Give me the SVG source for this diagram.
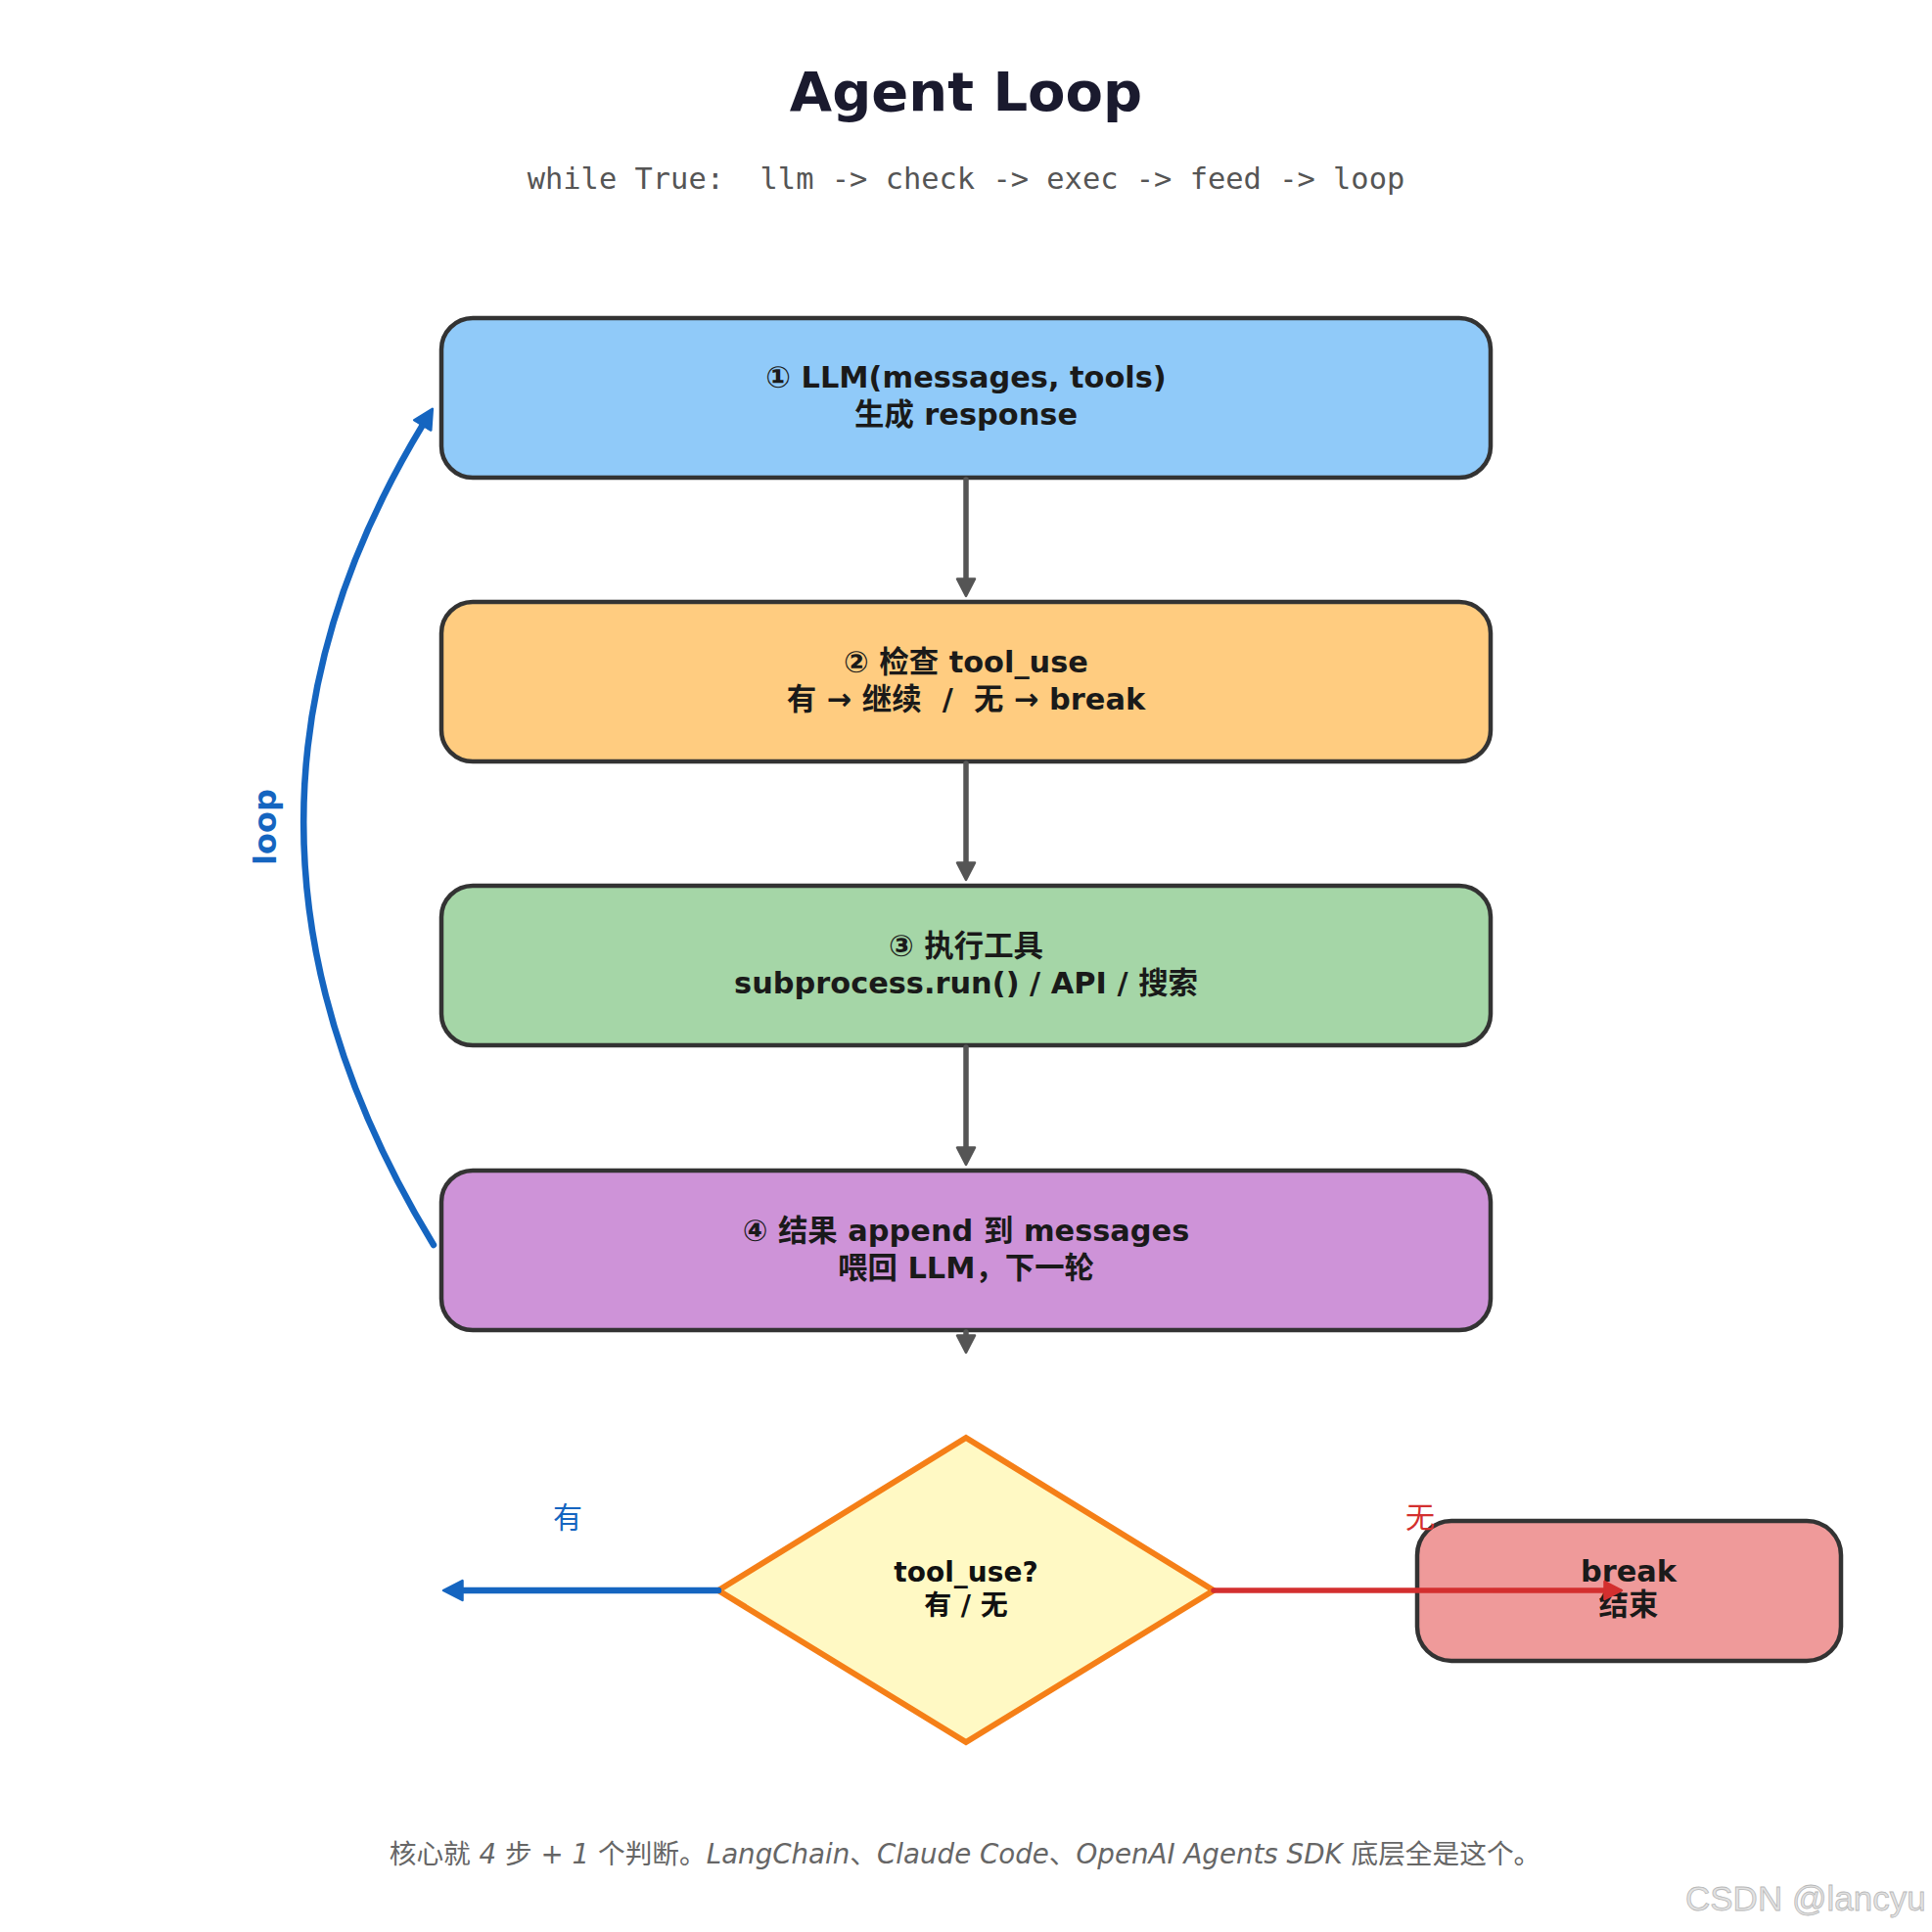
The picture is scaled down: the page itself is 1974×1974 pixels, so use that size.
<svg xmlns="http://www.w3.org/2000/svg" width="1974" height="1974" viewBox="0 0 1974 1974">
<style>
.bg{fill:#ffffff}
.box{stroke:#333333;stroke-width:4.5}
.t{font-family:"DejaVu Sans","Noto Sans CJK SC",sans-serif;font-weight:bold;font-size:30.4px;fill:#1a1a1a;text-anchor:middle}
.title{font-family:"DejaVu Sans","Noto Sans CJK SC",sans-serif;font-weight:bold;font-size:56px;fill:#1a1a2e;text-anchor:middle}
.sub{font-family:"DejaVu Sans Mono","Liberation Mono",monospace;font-size:30.4px;fill:#555555;text-anchor:middle}
.foot{font-family:"DejaVu Sans","Noto Sans CJK SC",sans-serif;font-size:27.7px;fill:#666666;text-anchor:middle}
.it{font-style:italic}
.gray{fill:none;stroke:#555555;stroke-width:5.5;stroke-linecap:round}
.blue{fill:none;stroke:#1565C0;stroke-width:6.5;stroke-linecap:round}
.red{fill:none;stroke:#D32F2F;stroke-width:5.5;stroke-linecap:round}
.lbl{font-family:"Noto Sans CJK SC",sans-serif;font-size:30px;text-anchor:middle}
.wm{font-family:"Liberation Sans",Arial,sans-serif;font-size:35px;fill:#e2e2e2;stroke:#b8b8b8;stroke-width:0.8}
</style>
<defs>
<marker id="ahGray" viewBox="0 0 22 22" markerWidth="22" markerHeight="22" markerUnits="userSpaceOnUse" refX="2" refY="11" orient="auto">
<path d="M1.5,2 L19,11 L1.5,20 Z" fill="#555555" stroke="#555555" stroke-width="2.5" stroke-linejoin="round"/>
</marker>
<marker id="ahBlue" viewBox="0 0 24 24" markerWidth="24" markerHeight="24" markerUnits="userSpaceOnUse" refX="2" refY="12" orient="auto">
<path d="M1.5,2 L21,12 L1.5,22 Z" fill="#1565C0" stroke="#1565C0" stroke-width="2.5" stroke-linejoin="round"/>
</marker>
<marker id="ahRed" viewBox="0 0 22 22" markerWidth="22" markerHeight="22" markerUnits="userSpaceOnUse" refX="2" refY="11" orient="auto">
<path d="M1.5,2 L19,11 L1.5,20 Z" fill="#D32F2F" stroke="#D32F2F" stroke-width="2.5" stroke-linejoin="round"/>
</marker>
</defs>
<rect class="bg" x="0" y="0" width="1974" height="1974"/>

<g id="title">
<text class="title" x="987" y="113">Agent Loop</text>
<text class="sub" x="987" y="193" xml:space="preserve">while True:  llm -&gt; check -&gt; exec -&gt; feed -&gt; loop</text>
</g>

<g id="step1">
<rect class="box" x="451" y="325" width="1072" height="163" rx="32" fill="#90CAF9"/>
<text class="t" x="987" y="396">① LLM(messages, tools)</text>
<text class="t" x="987" y="434">生成 response</text>
</g>

<g id="step2">
<rect class="box" x="451" y="615" width="1072" height="163" rx="32" fill="#FFCC80"/>
<text class="t" x="987" y="687">② 检查 tool_use</text>
<text class="t" x="987" y="725" xml:space="preserve">有 → 继续  /  无 → break</text>
</g>

<g id="step3">
<rect class="box" x="451" y="905" width="1072" height="163" rx="32" fill="#A5D6A7"/>
<text class="t" x="987" y="977">③ 执行工具</text>
<text class="t" x="987" y="1015">subprocess.run() / API / 搜索</text>
</g>

<g id="step4">
<rect class="box" x="451" y="1196" width="1072" height="163" rx="32" fill="#CE93D8"/>
<text class="t" x="987" y="1268">④ 结果 append 到 messages</text>
<text class="t" x="987" y="1306">喂回 LLM，下一轮</text>
</g>

<g id="decision">
<polygon points="987,1469 1240,1625 987,1780 734,1625" fill="#FFF9C4" stroke="#F57F17" stroke-width="6"/>
<text class="t" x="987" y="1616" style="font-size:28px;fill:#111">tool_use?</text>
<text class="t" x="987" y="1650" style="font-size:28px;fill:#111">有 / 无</text>
</g>

<g id="break">
<rect class="box" x="1448" y="1554" width="433" height="143" rx="35" fill="#EF9A9A"/>
<text class="t" x="1664" y="1616">break</text>
<text class="t" x="1664" y="1650">结束</text>
</g>

<g id="connectors">
<line class="gray" x1="987" y1="490" x2="987" y2="592" marker-end="url(#ahGray)"/>
<line class="gray" x1="987" y1="780" x2="987" y2="882" marker-end="url(#ahGray)"/>
<line class="gray" x1="987" y1="1070" x2="987" y2="1173" marker-end="url(#ahGray)"/>
<line class="gray" x1="987" y1="1361" x2="987" y2="1365" marker-end="url(#ahGray)"/>
<path class="blue" d="M443,1272 Q183,845 432,434" marker-end="url(#ahBlue)"/>
<text transform="translate(282,845) rotate(-90)" style="font-family:'DejaVu Sans',sans-serif;font-weight:bold;font-size:32px;fill:#1565C0;text-anchor:middle">loop</text>
<line class="blue" x1="734" y1="1625" x2="472" y2="1625" stroke-width="5.5" marker-end="url(#ahBlue)"/>
<text class="lbl" x="580" y="1561" fill="#1565C0">有</text>
<line class="red" x1="1240" y1="1625" x2="1640" y2="1625" marker-end="url(#ahRed)"/>
<text class="lbl" x="1451" y="1561" fill="#D32F2F">无</text>
</g>

<g id="footer">
<text class="foot" x="986" y="1904">核心就<tspan class="it"> 4 </tspan>步<tspan class="it"> + 1 </tspan>个判断。<tspan class="it">LangChain</tspan>、<tspan class="it">Claude Code</tspan>、<tspan class="it">OpenAI Agents SDK </tspan>底层全是这个。</text>
<text class="wm" x="1722" y="1952">CSDN @lancyu</text>
</g>
</svg>
